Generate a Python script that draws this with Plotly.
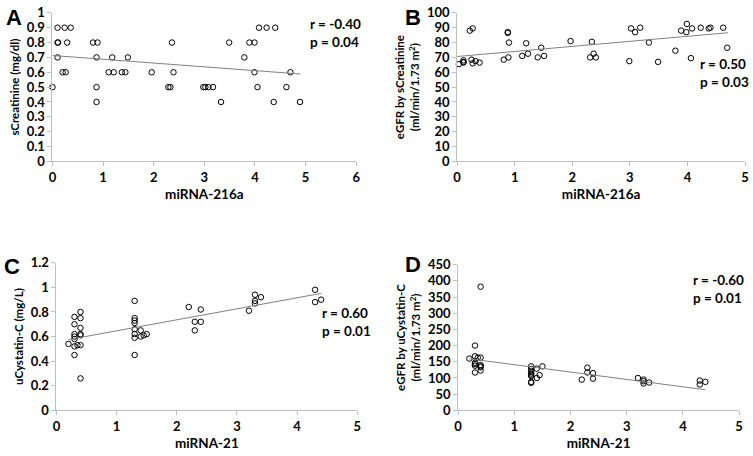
import plotly.graph_objects as go
import numpy as np

# Panel A: miRNA-216a vs sCreatinine
a_x = [0.0, 0.1, 0.24, 0.36, 0.1, 0.11, 0.29, 0.1, 0.2, 0.26, 0.8, 0.89, 0.87, 0.87, 0.87,
       1.11, 1.21, 1.18, 1.37, 1.44, 1.49, 1.96, 2.29, 2.33, 2.36, 2.39, 2.98, 3.02, 3.08, 3.17,
       3.33, 3.49, 3.79, 3.89, 3.99, 3.99, 4.08, 4.23, 4.40, 4.05, 4.37, 4.62, 4.70, 4.89]
a_y = [0.5, 0.9, 0.9, 0.9, 0.8, 0.8, 0.8, 0.7, 0.6, 0.6, 0.8, 0.8, 0.7, 0.5, 0.4,
       0.6, 0.6, 0.7, 0.6, 0.6, 0.7, 0.6, 0.5, 0.5, 0.8, 0.6, 0.5, 0.5, 0.5, 0.5,
       0.4, 0.8, 0.7, 0.8, 0.8, 0.6, 0.9, 0.9, 0.9, 0.5, 0.4, 0.5, 0.6, 0.4]

# Panel B: miRNA-216a vs eGFR by sCreatinine
b_x = [0.03, 0.11, 0.11, 0.11, 0.22, 0.27, 0.25, 0.27, 0.32, 0.39, 0.81, 0.89, 0.88, 0.88, 0.90,
       1.13, 1.20, 1.23, 1.40, 1.46, 1.51, 1.97, 2.31, 2.34, 2.37, 2.41, 2.99, 3.02, 3.09, 3.18,
       3.33, 3.49, 3.79, 3.89, 3.98, 3.99, 4.06, 4.08, 4.23, 4.37, 4.40, 4.62, 4.69]
b_y = [65.5, 68, 67, 66.5, 88, 89.5, 68.5, 66, 67.5, 66.5, 68.5, 70, 87, 86.5, 80,
       71, 79.5, 72.5, 70, 76.5, 71, 81, 70, 80.5, 72.5, 70, 67.5, 89.5, 87, 90,
       80, 67, 74.5, 88, 87, 92.5, 69.5, 89.5, 90, 89.5, 90, 90, 76.5]

# Panel C: miRNA-21 vs uCystatin-C
c_x = [0.2, 0.3, 0.3, 0.3, 0.3, 0.3, 0.3, 0.3, 0.35, 0.4, 0.4, 0.4, 0.4, 0.4, 0.4, 0.4,
       1.3, 1.3, 1.3, 1.3, 1.3, 1.3, 1.3, 1.3, 1.4, 1.4, 1.45, 1.5,
       2.2, 2.4, 2.3, 2.4, 2.3, 3.2, 3.3, 3.4, 3.3, 3.3, 4.3, 4.3, 4.4]
c_y = [0.54, 0.76, 0.70, 0.62, 0.60, 0.58, 0.52, 0.45, 0.53, 0.80, 0.75, 0.67, 0.62, 0.61, 0.53, 0.26,
       0.89, 0.75, 0.73, 0.71, 0.66, 0.62, 0.59, 0.45, 0.65, 0.60, 0.61, 0.62,
       0.84, 0.82, 0.72, 0.72, 0.65, 0.81, 0.94, 0.92, 0.89, 0.87, 0.98, 0.88, 0.90]

# Panel D: miRNA-21 vs eGFR by uCystatin-C
d_x = [0.4, 0.3, 0.2, 0.3, 0.35, 0.4, 0.3, 0.3, 0.3, 0.4, 0.4, 0.4, 0.4, 0.3,
       1.3, 1.3, 1.3, 1.3, 1.3, 1.3, 1.3, 1.3, 1.4, 1.4, 1.45, 1.5,
       2.2, 2.3, 2.3, 2.4, 2.4, 3.2, 3.3, 3.3, 3.3, 3.4, 4.3, 4.3, 4.4]
d_y = [382, 200, 160, 167, 163, 163, 147, 143, 138, 140, 136, 133, 123, 117,
       136, 128, 119, 114, 110, 106, 88, 85, 129, 100, 109, 136,
       95, 132, 117, 115, 98, 100, 95, 90, 83, 86, 92, 80, 88]

# linear trend (intercept, slope, x from, x to)
trend_a = (0.713, -0.0255, 0.0, 4.9)
trend_b = (70.6, 3.4, 0.0, 4.7)
trend_c = (0.557, 0.0895, 0.2, 4.4)
trend_d = (163.8, -22.75, 0.2, 4.4)

stats = ['r = -0.40<br>p = 0.04', 'r = 0.50<br>p = 0.03',
         'r = 0.60<br>p = 0.01', 'r = -0.60<br>p = 0.01']
letters = ['A', 'B', 'C', 'D']

W, H = 753, 456
font_family = 'Lato'
axis_color = '#bfbfbf'

panels = [
    dict(x=a_x, y=a_y, trend=trend_a, px=(49, 356), py=(5, 159), xr=[0, 6], yr=[0, 1], dy=0.1,
         xt='miRNA-216a', yt='sCreatinine (mg/dl)', letter=(10, 10), stat=(307, 26)),
    dict(x=b_x, y=b_y, trend=trend_b, px=(458, 749), py=(5, 159), xr=[0, 5], yr=[0, 100], dy=10,
         xt='miRNA-216a', yt='eGFR by sCreatinine<br>(ml/min/1.73 m<sup>2</sup>)', letter=(413, 10), stat=(701, 67)),
    dict(x=c_x, y=c_y, trend=trend_c, px=(53, 357), py=(264, 417), xr=[0, 5], yr=[0, 1.2], dy=0.2,
         xt='miRNA-21', yt='uCystatin-C (mg/L)', letter=(8, 268), stat=(319, 325)),
    dict(x=d_x, y=d_y, trend=trend_d, px=(459, 743), py=(266, 417), xr=[0, 5], yr=[0, 450], dy=50,
         xt='miRNA-21', yt='eGFR by uCystatin-C<br>(ml/min/1.73 m<sup>2</sup>)', letter=(413, 266), stat=(694, 291)),
]

fig = go.Figure()
layout = dict(width=W, height=H, margin=dict(l=0, r=0, t=0, b=0),
              plot_bgcolor='white', paper_bgcolor='white', showlegend=False,
              font=dict(family=font_family, color='black'))
annotations = []

for i, p in enumerate(panels):
    n = '' if i == 0 else str(i + 1)
    xa, ya = 'x' + n, 'y' + n
    fig.add_trace(go.Scatter(
        x=p['x'], y=p['y'], mode='markers', xaxis=xa, yaxis=ya,
        marker=dict(symbol='circle-open', size=5.5, color='black', line=dict(width=1)),
        cliponaxis=False
    ))
    b0, b1, x0, x1 = p['trend']
    tx = np.array([x0, x1])
    fig.add_trace(go.Scatter(
        x=tx, y=b0 + b1 * tx, mode='lines', xaxis=xa, yaxis=ya,
        line=dict(color='#808080', width=1)
    ))
    common = dict(showgrid=False, zeroline=False, showline=True, linecolor=axis_color, linewidth=1,
                  ticks='outside', ticklen=4, tickcolor=axis_color,
                  tickfont=dict(size=13, weight='bold', family=font_family))
    layout['xaxis' + n] = dict(
        common, domain=[p['px'][0] / W, p['px'][1] / W], anchor=ya, range=p['xr'], dtick=1,
        title=dict(text=p['xt'], font=dict(size=13.5, weight='bold'), standoff=5)
    )
    layout['yaxis' + n] = dict(
        common, domain=[1 - p['py'][1] / H, 1 - p['py'][0] / H], anchor=xa, range=p['yr'], dtick=p['dy'],
        title=dict(text=p['yt'], font=dict(size=11.5, weight='bold'), standoff=4)
    )
    annotations.append(dict(
        text=letters[i], xref='paper', yref='paper', x=p['letter'][0] / W, y=1 - p['letter'][1] / H,
        xanchor='center', yanchor='middle', showarrow=False,
        font=dict(size=22, weight='bold', family='Liberation Sans')
    ))
    annotations.append(dict(
        text=stats[i], xref='paper', yref='paper', x=p['stat'][0] / W, y=1 - p['stat'][1] / H,
        xanchor='left', yanchor='middle', align='left', showarrow=False,
        font=dict(size=13.5, weight='bold')
    ))

layout['annotations'] = annotations
fig.update_layout(layout)
fig.write_html("out.html", config={'displayModeBar': False},
               post_script="document.body.style.margin='0';")
